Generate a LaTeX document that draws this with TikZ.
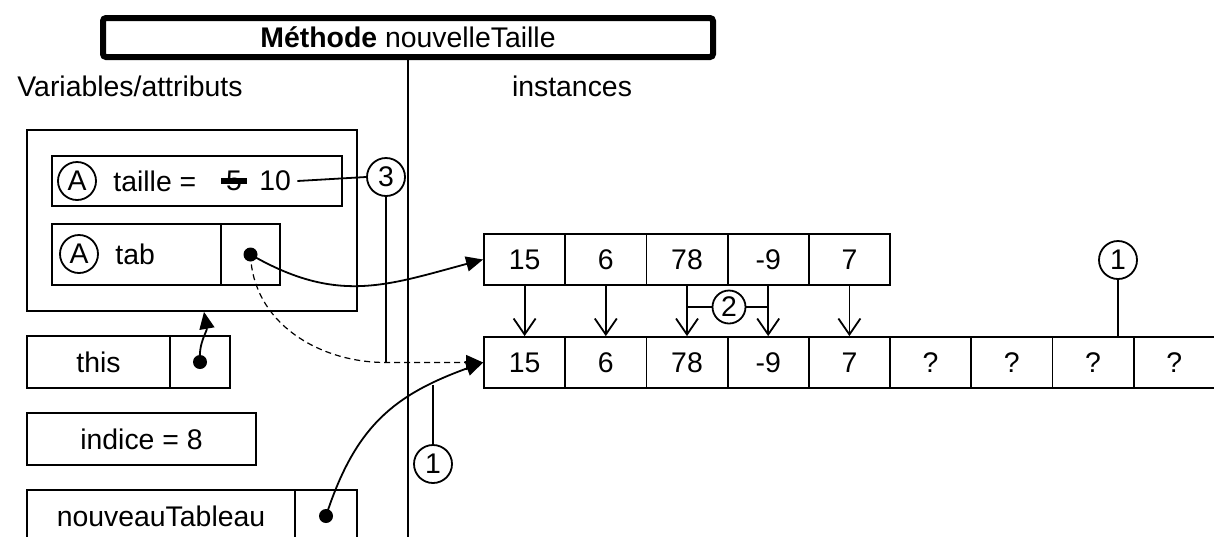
\documentclass[tikz,border=0pt]{standalone}
\usepackage{fontspec}
\setmainfont{Liberation Sans}
\usetikzlibrary{arrows.meta}

\begin{document}
\begin{tikzpicture}[x=0.5pt,y=-0.5pt,
    font=\fontsize{14.2}{17}\selectfont,
    boite/.style={draw,line width=0.9pt,inner sep=0pt},
    case/.style={boite,minimum width=40.6pt,minimum height=25.5pt},
    rond/.style={draw,circle,line width=0.9pt,inner sep=0pt,minimum size=19pt},
    fleche/.style={line width=0.9pt,-{Triangle[length=8.5pt,width=7.5pt]}},
    copie/.style={line width=0.9pt,-{Straight Barb[length=8pt,width=11pt]}}]
  \useasboundingbox (0,0) rectangle (1214,536);
  % methode et separation
  \node[draw,line width=3pt,rounded corners=1.5pt,minimum width=305pt,minimum height=19.5pt,inner sep=0pt] (titre) at (408,37.5) {\textbf{Méthode} nouvelleTaille};
  \coordinate (bas) at (408,545);
  \draw[line width=0.9pt] (titre.south) -- (bas);
  \node (vars) at (130,86) {Variables/attributs};
  \node (inst) at (572,86) {instances};

  % objet
  \node[boite,minimum width=165pt,minimum height=90.5pt] (objet) at (192,220.5) {};
  \node[boite,minimum width=145pt,minimum height=25pt] (taille) at (197,181) {};
  \node[rond] (Ataille) at (77,181) {A};
  \node[anchor=west,inner sep=0pt] (nomtaille) at (113,181) {taille =};
  \node (ancien) at (234,181) {5};
  \draw[line width=3.2pt] ([xshift=1pt]ancien.west) -- ([xshift=-1pt]ancien.east);
  \node[anchor=west,inner sep=0pt] (nouv) at (259,181) {10};
  \node[rond] (trois) at (386,177) {3};
  \draw[line width=0.9pt] ([xshift=3pt]nouv.east) -- (trois.west);
  \node[boite,minimum width=84.5pt,minimum height=30.5pt] (tabnom) at (136.5,254.5) {};
  \node[boite,minimum width=29.5pt,minimum height=30.5pt] (tabval) at (250.5,254.5) {};
  \node[rond] (Atab) at (79,254) {A};
  \node[anchor=west,inner sep=0pt] (tabtxt) at (115,254) {tab};

  % variables
  \node[boite,minimum width=71.5pt,minimum height=26pt] (thisnom) at (98.5,362) {this};
  \node[boite,minimum width=30pt,minimum height=26pt] (thisval) at (200,362) {};
  \node[boite,minimum width=114.5pt,minimum height=26pt] (indice) at (141.5,439) {indice = 8};
  \node[boite,minimum width=134pt,minimum height=26pt] (nomnouv) at (161,516) {nouveauTableau};
  \node[boite,minimum width=31pt,minimum height=26pt] (valnouv) at (326,516) {};
  \fill (tabval.center) circle (3.5pt);
  \fill (thisval.center) circle (3.5pt);
  \fill (valnouv.center) circle (3.5pt);

  % tableaux
  \foreach \v [count=\i] in {15,6,78,-9,7}
    \node[case] (a\i) at (443.4+81.2*\i,259.5) {\v};
  \foreach \v [count=\i] in {15,6,78,-9,7,?,?,?,?}
    \node[case] (b\i) at (443.4+81.2*\i,362.5) {\v};
  \foreach \i in {1,...,5}
    \draw[copie] (a\i) -- (b\i);
  \node[rond,minimum size=16.5pt] (deux) at (729,307) {2};
  \draw[line width=0.9pt] (deux.west) -- (deux.west -| a3.south);
  \draw[line width=0.9pt] (deux.east) -- (deux.east -| a4.south);
  \node[rond] (unhaut) at (1118,260) {1};
  \draw[line width=0.9pt] (unhaut) -- (unhaut |- b8.north);

  % references
  \coordinate (coude) at (trois |- b1.west);
  \draw[fleche] (tabval.center) to[out=-30,in=195,looseness=1.1] (a1.west);
  \draw[fleche,line width=0.6pt,dash pattern=on 3pt off 2pt] (tabval.center) to[out=-88,in=180] (coude) -- (b1.west);
  \draw[line width=0.9pt] (trois) -- (coude);
  \draw[fleche] (thisval.center) to[out=95,in=-80] ([xshift=2pt]thisval.center |- objet.south);
  \draw[fleche] (valnouv.center) to[out=72,in=200,looseness=1.1] (b1.west);
  \coordinate (touche) at (433,385);
  \node[rond] (unbas) at (433,464) {1};
  \draw[line width=0.9pt] (unbas) -- (touche);
\end{tikzpicture}
\end{document}
